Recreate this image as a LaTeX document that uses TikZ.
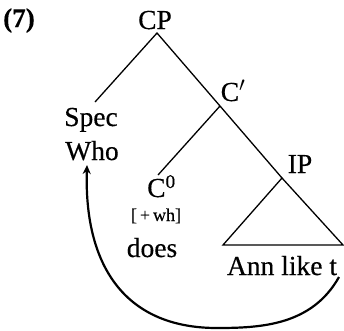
\documentclass[tikz,border=0pt]{standalone}
\usepackage{fontspec}
\setmainfont{Liberation Serif}[FakeBold=0.4]
\usetikzlibrary{arrows.meta}
\tikzset{
  lab/.style={inner sep=0pt, anchor=base, font=\fontsize{27.5}{30}\selectfont},
  feat/.style={inner sep=0pt, anchor=base, font=\fontsize{18}{21}\selectfont},
  branch/.style={line width=1.3pt},
  movearc/.style={line width=2.2pt, -{Stealth[length=9pt,width=8pt]}}
}
\begin{document}
\begin{tikzpicture}[x=1pt,y=1pt]
\useasboundingbox (0,0) rectangle (344,-330);
% labels
\node[lab, font=\fontsize{27}{30}\selectfont\bfseries] (ex) at (19,-27) {(7)};
\node[lab] (cp) at (155,-29) {CP};
\node[lab] (cbar) at (233,-101) {C$'$};
\node[lab] (spec) at (91,-126) {Spec};
\node[lab] (who) at (92,-160) {Who};
\node[lab, anchor=base west] (c0) at (147,-197) {C\textsuperscript{0}};
\node[feat] (wh) at (156,-221) {[\,+\,wh]};
\node[lab] (does) at (152,-257) {does};
\node[lab] (ip) at (300,-173) {IP};
\node[lab] (ann) at (282,-275) {Ann like t};
% tree points
\coordinate (cpTop) at (157,-33);
\coordinate (cbarJ) at (220,-106);
\coordinate (ipTop) at (282,-178);
\coordinate (specTop) at (95,-102);
\coordinate (c0Top) at (158,-175);
\coordinate (triL) at (223,-245);
\coordinate (triR) at (343,-245);
\coordinate (arcStart) at (339,-277);
\coordinate (arcLow) at (217,-328);
\coordinate (arcEnd) at (87,-165);
% branches
\draw[branch] (specTop) -- (cpTop) -- (cbarJ) -- (ipTop);
\draw[branch] (cbarJ) -- (c0Top);
\draw[branch, line join=miter] (ipTop) -- (triL) -- (triR) -- cycle;
% movement arrow
\draw[movearc] (arcStart) .. controls (312,-325) and (262,-328) .. (arcLow)
  .. controls (122,-328) and (84,-262) .. (arcEnd);
\end{tikzpicture}
\end{document}
